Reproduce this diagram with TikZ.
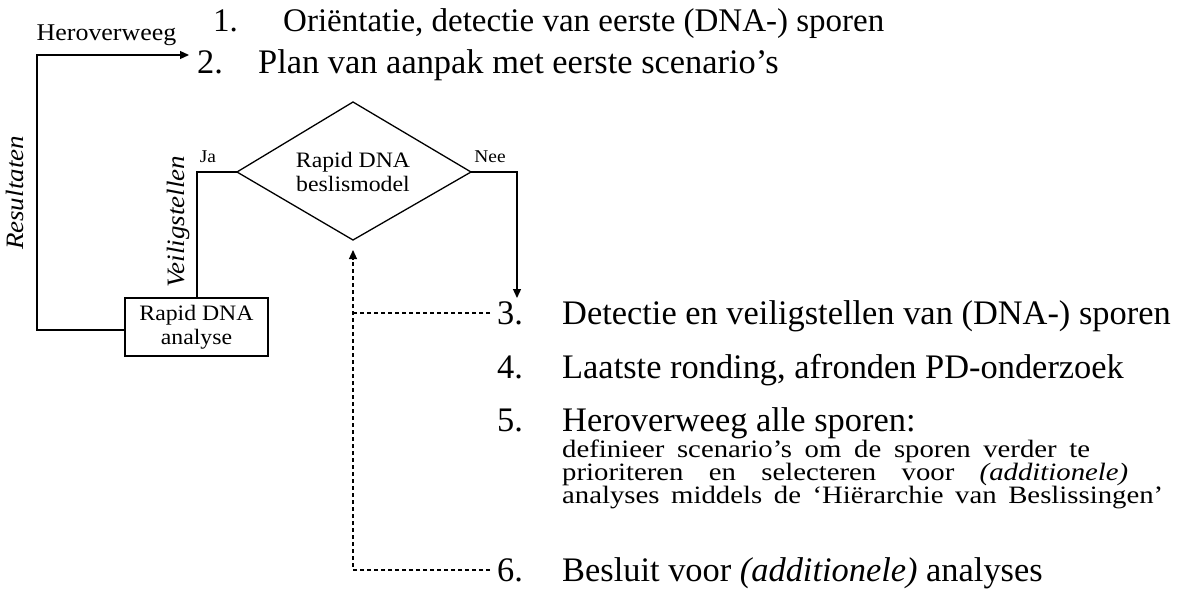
\documentclass[tikz,border=0pt]{standalone}
\usepackage{fontspec}
\setmainfont{Liberation Serif}
\newfontfamily\lblfont[FakeStretch=1.08]{Liberation Serif}
\newfontfamily\subfont[FakeStretch=1.15]{Liberation Serif}
\usetikzlibrary{arrows.meta}
\tikzset{
  x=1pt, y=-1pt,
  lbl/.style={inner sep=0pt, font=\lblfont\fontsize{22}{24}\selectfont},
  small/.style={inner sep=0pt, font=\lblfont\fontsize{18}{20}\selectfont},
  item/.style={inner sep=0pt, anchor=base west, font=\fontsize{34.4}{36}\selectfont},
  sub/.style={inner sep=0pt, anchor=base west, font=\subfont\fontsize{25}{26}\selectfont},
  conn/.style={line width=1.3pt},
  dconn/.style={line width=1.1pt, dash pattern=on 4pt off 3pt},
  tip/.style={-{Triangle[length=9pt,width=8pt]}},
}
\begin{document}
\begin{tikzpicture}
\useasboundingbox (0,0) rectangle (1179,613);
% list items
\node[item, font=\fontsize{33}{36}\selectfont] (n1) at (213,31) {1.};
\node[item, font=\fontsize{33}{36}\selectfont] (t1) at (283,31) {Oriëntatie, detectie van eerste (DNA-) sporen};
\node[item] (n2) at (197,73) {2.};
\node[item] (t2) at (258,73) {Plan van aanpak met eerste scenario’s};
\node[item] (n3) at (497,324) {3.};
\node[item] (t3) at (562,324) {Detectie en veiligstellen van (DNA-) sporen};
\node[item] (n4) at (497,378) {4.};
\node[item] (t4) at (562,378) {Laatste ronding, afronden PD-onderzoek};
\node[item] (n5) at (497,431) {5.};
\node[item] (t5) at (562,431) {Heroverweeg alle sporen:};
\node[sub] (s1) at (562,457) {\makebox[528pt][s]{definieer scenario’s om de sporen verder te}};
\node[sub] (s2) at (562,480) {\makebox[566pt][s]{prioriteren en selecteren voor \textit{(additionele)}}};
\node[sub] (s3) at (562,503) {\makebox[601pt][s]{analyses middels de ‘Hiërarchie van Beslissingen’}};
\node[item] (n6) at (497,581) {6.};
\node[item] (t6) at (562,581) {Besluit voor \textit{(additionele)} analyses};
% diamond
\coordinate (dt) at (353,102);
\coordinate (db) at (353,240);
\coordinate (dl) at (237,172);
\coordinate (dr) at (471,172);
\draw[conn] (dt) -- (dr) -- (db) -- (dl) -- cycle;
\node[lbl, align=center] (dtext) at (353,172) {Rapid DNA\\beslismodel};
% box
\node[draw, line width=1.3pt, minimum width=143pt, minimum height=58pt, lbl, align=center] (box) at (196.5,327) {Rapid DNA\\analyse};
% labels
\node[lbl, font=\lblfont\fontsize{24}{26}\selectfont] (her) at (106.5,35) {Heroverweeg};
\node[small] (ja) at (208,157) {Ja};
\node[small] (nee) at (490,157) {Nee};
\node[lbl, rotate=90, font=\lblfont\fontsize{25}{27}\selectfont\itshape] (res) at (15,193) {Resultaten};
\node[lbl, rotate=90, font=\lblfont\fontsize{25}{27}\selectfont\itshape] (veil) at (178,222) {Veiligstellen};
% connectors
\coordinate (c1) at (37,330);
\coordinate (c2) at (37,55);
\coordinate (c3) at (189,55);
\draw[conn, tip] (box.west |- c1) -- (c1) -- (c2) -- (c3);
\coordinate (j1) at (197,172);
\draw[conn] (dl) -- (j1) -- (j1 |- box.north);
\coordinate (r1) at (517,172);
\coordinate (r2) at (517,298);
\draw[conn, tip] (dr) -- (r1) -- (r2);
\coordinate (e3) at (490,313);
\coordinate (e6) at (490,570);
\coordinate (v3) at (353,313);
\coordinate (v6) at (353,570);
\coordinate (vt) at (353,250);
\draw[dconn] (e3) -- (v3);
\draw[dconn, tip] (e6) -- (v6) -- (vt);
\end{tikzpicture}
\end{document}
